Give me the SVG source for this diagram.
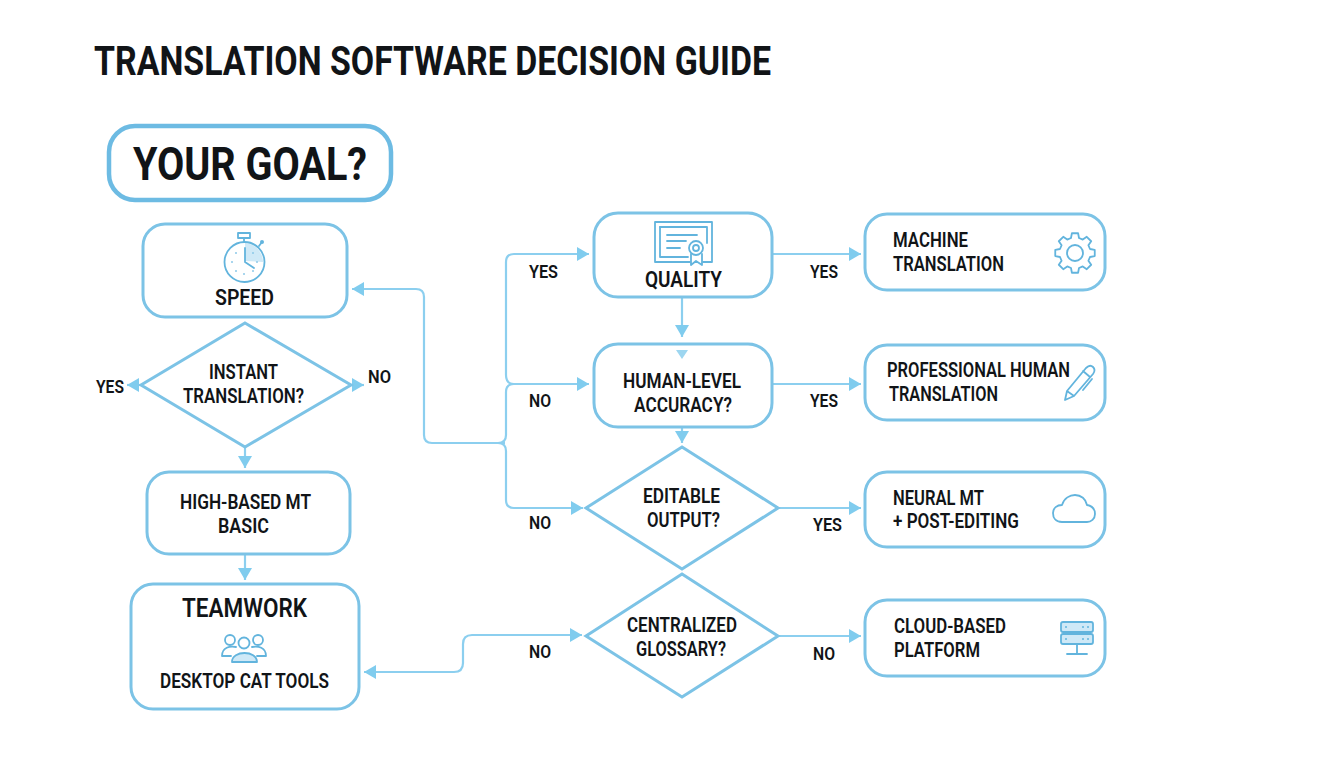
<svg xmlns="http://www.w3.org/2000/svg" width="1344" height="768" viewBox="0 0 1344 768">
<style>
text{font-family:Roboto,"Liberation Sans",sans-serif;font-weight:600;fill:#111417;font-size:20px}
.t{font-size:40px;font-weight:700}
.g{font-size:46px;font-weight:700}
.h{font-size:22px}
.b{font-size:25px}
.l{font-size:18px}
.s{fill:#fff;stroke:#7cc3e6;stroke-width:3}
.c{fill:none;stroke:#8ccfef;stroke-width:2.2}
.i{fill:none;stroke:#62b4dd;stroke-width:1.800;stroke-linecap:round;stroke-linejoin:round}
.f{fill:#cfe9f7;stroke:none}
.v{fill:#cfe9f7;stroke:#62b4dd;stroke-width:1.800}
</style>
<defs>
<marker id="a" markerUnits="userSpaceOnUse" markerWidth="13" markerHeight="16" refX="12" refY="8" orient="auto"><path d="M0 1L12 8L0 15Z" fill="#80ccee"/></marker>
</defs>
<rect width="1344" height="768" fill="#fff"/>
<text class="t" x="94" y="75" textLength="677" lengthAdjust="spacingAndGlyphs">TRANSLATION SOFTWARE DECISION GUIDE</text>
<g id="connectors">
<path class="c" marker-end="url(#a)" d="M505 443H432q-8 0-8-8V297q0-8-8-8H352"/>
<path class="c" marker-end="url(#a)" d="M506 375V262q0-8 8-8H589"/>
<path class="c" marker-end="url(#a)" d="M506 375q0 9 8 9H589"/>
<path class="c" d="M514 384q-8 0-8 8V435q0 8-8 8"/>
<path class="c" marker-end="url(#a)" d="M498 443q8 0 8 8V500q0 8 8 8H583"/>
<path class="c" marker-end="url(#a)" d="M682 297V337"/>
<path class="c" marker-end="url(#a)" d="M682 427V443"/>
<path class="c" marker-end="url(#a)" d="M772 254H861"/>
<path class="c" marker-end="url(#a)" d="M772 384H861"/>
<path class="c" marker-end="url(#a)" d="M778 508H861"/>
<path class="c" marker-end="url(#a)" d="M778 636H861"/>
<path class="c" marker-end="url(#a)" d="M141 385H127"/>
<path class="c" marker-end="url(#a)" d="M351 385H364"/>
<path class="c" marker-end="url(#a)" d="M245 447V468"/>
<path class="c" marker-end="url(#a)" d="M245 554V580"/>
<path class="c" marker-end="url(#a)" d="M472 635H582"/>
<path class="c" marker-end="url(#a)" d="M472 635q-9 0-9 9V663q0 9-9 9H364"/>
</g>
<g id="goal"><rect x="109" y="126" width="282" height="74" rx="26" fill="#fff" stroke="#6dbbe3" stroke-width="4.500"/>
<text class="g" x="133" y="180" textLength="234" lengthAdjust="spacingAndGlyphs">YOUR GOAL?</text></g>
<g id="speed"><rect class="s" x="143" y="224" width="204" height="93" rx="22"/>
<path class="f" d="M245 243A19 19 0 0 1 263 262L245 261Z"/>
<circle class="i" cx="244.500" cy="262" r="20"/>
<path class="i" d="M245 248V262L254 268M238 238h12v-5h-12zM244 238v4M259 246l3-4"/>
<circle cx="262" cy="242" r="2" fill="#62b4dd"/>
<g fill="#8cc8e8"><circle cx="232" cy="262" r="1"/><circle cx="257" cy="262" r="1"/><circle cx="244" cy="274" r="1"/><circle cx="236" cy="253" r="1"/><circle cx="253" cy="253" r="1"/><circle cx="236" cy="271" r="1"/><circle cx="253" cy="271" r="1"/></g>
<text class="h" x="215" y="305" textLength="59" lengthAdjust="spacingAndGlyphs">SPEED</text></g>
<g id="instant"><path class="s" d="M245 323L351 385L245 447L141 385Z"/>
<text x="209" y="379" textLength="69" lengthAdjust="spacingAndGlyphs">INSTANT</text>
<text x="183" y="403" textLength="121" lengthAdjust="spacingAndGlyphs">TRANSLATION?</text></g>
<g id="highbased"><rect class="s" x="147" y="472" width="203" height="82" rx="22"/>
<text x="180" y="509" textLength="131" lengthAdjust="spacingAndGlyphs">HIGH-BASED MT</text>
<text x="218" y="533" textLength="51" lengthAdjust="spacingAndGlyphs">BASIC</text></g>
<g id="teamwork"><rect class="s" x="131" y="584" width="228" height="125" rx="22"/>
<text class="b" x="182" y="617" textLength="125" lengthAdjust="spacingAndGlyphs">TEAMWORK</text>
<path class="f" d="M233 662c0-12 24-12 24 0Z"/>
<g class="i"><circle cx="230" cy="640" r="5"/><circle cx="244" cy="643" r="5.500"/><circle cx="258" cy="640" r="5"/><path d="M222 656c0-9 8-10 14-9M266 656c0-9-8-10-14-9M222 656h9M266 656h-9M232 662c0-12 25-12 25 0Z"/></g>
<text x="160" y="688" textLength="169" lengthAdjust="spacingAndGlyphs">DESKTOP CAT TOOLS</text></g>
<g id="quality"><rect class="s" x="594" y="213" width="178" height="84" rx="24"/>
<g class="i"><path d="M690 262H655V222H712V262H703"/><path d="M660 227H707V243"/><path d="M660 227V257H688"/><path d="M667 235H697M667 241H686M667 248H680"/><circle cx="696" cy="248" r="7"/><circle cx="696" cy="248" r="3"/><path d="M691 254V265L696 261L702 265V254"/></g>
<text class="h" x="645" y="287" textLength="77" lengthAdjust="spacingAndGlyphs">QUALITY</text></g>
<g id="human"><rect class="s" x="594" y="344" width="178" height="83" rx="24"/>
<path d="M676 350L688 350L682 359Z" fill="#9dd6f0"/>
<text x="623" y="388" textLength="118" lengthAdjust="spacingAndGlyphs">HUMAN-LEVEL</text>
<text x="634" y="412" textLength="98" lengthAdjust="spacingAndGlyphs">ACCURACY?</text></g>
<g id="editable"><path class="s" d="M682 447L778 508L682 569L586 508Z"/>
<text x="643" y="503" textLength="77" lengthAdjust="spacingAndGlyphs">EDITABLE</text>
<text x="647" y="527" textLength="73" lengthAdjust="spacingAndGlyphs">OUTPUT?</text></g>
<g id="centralized"><path class="s" d="M682 574L778 636L682 697L586 636Z"/>
<text x="627" y="632" textLength="110" lengthAdjust="spacingAndGlyphs">CENTRALIZED</text>
<text x="636" y="656" textLength="90" lengthAdjust="spacingAndGlyphs">GLOSSARY?</text></g>
<g id="machine"><rect class="s" x="865" y="214" width="240" height="76" rx="22"/>
<g class="i" transform="translate(1075 253)"><circle r="8"/><path d="M-4-15L-3.100-19.750L3.100-19.750L4-15L7.750-13.400L11.750-16.200L16.200-11.750L13.400-7.750L15-4L19.750-3.100L19.750 3.100L15 4L13.400 7.750L16.200 11.750L11.750 16.200L7.750 13.400L4 15L3.100 19.750L-3.100 19.750L-4 15L-7.750 13.400L-11.750 16.200L-16.200 11.750L-13.400 7.750L-15 4L-19.750 3.100L-19.750-3.100L-15-4L-13.400-7.750L-16.200-11.750L-11.750-16.200L-7.750-13.400Z"/></g>
<text x="893" y="247" textLength="75" lengthAdjust="spacingAndGlyphs">MACHINE</text>
<text x="893" y="271" textLength="111" lengthAdjust="spacingAndGlyphs">TRANSLATION</text></g>
<g id="professional"><rect class="s" x="865" y="345" width="240" height="75" rx="22"/>
<path class="i" d="M1067 391L1086 368Q1090 364 1093 367Q1096 370 1093 374L1074 396L1065 400ZM1067 391L1074 396M1083 371L1090 377M1092 379L1083 390"/>
<text x="887" y="377" textLength="183" lengthAdjust="spacingAndGlyphs">PROFESSIONAL HUMAN</text>
<text x="889" y="401" textLength="109" lengthAdjust="spacingAndGlyphs">TRANSLATION</text></g>
<g id="neural"><rect class="s" x="865" y="472" width="240" height="75" rx="22"/>
<path class="i" d="M1062 522C1055 522 1053 517 1053 513C1053 508 1057 505 1062 505C1064 498 1070 495 1075 495C1081 495 1086 499 1087 505C1092 506 1095 509 1095 514C1095 519 1091 522 1087 522Z"/>
<text x="893" y="505" textLength="91" lengthAdjust="spacingAndGlyphs">NEURAL MT</text>
<text x="893" y="528" textLength="126" lengthAdjust="spacingAndGlyphs">+ POST-EDITING</text></g>
<g id="cloud"><rect class="s" x="865" y="600" width="240" height="76" rx="22"/>
<rect class="v" x="1061" y="622" width="32" height="10" rx="2"/>
<rect class="v" x="1061" y="634" width="32" height="10" rx="2"/>
<g fill="#62b4dd"><circle cx="1066" cy="627" r="1"/><circle cx="1083" cy="627" r="1"/><circle cx="1088" cy="627" r="1"/><circle cx="1066" cy="639" r="1"/><circle cx="1083" cy="639" r="1"/><circle cx="1088" cy="639" r="1"/></g>
<path class="i" d="M1077 644V654M1067 654H1087"/>
<text x="894" y="633" textLength="112" lengthAdjust="spacingAndGlyphs">CLOUD-BASED</text>
<text x="894" y="657" textLength="86" lengthAdjust="spacingAndGlyphs">PLATFORM</text></g>
<g id="labels">
<text class="l" x="96" y="393" textLength="28" lengthAdjust="spacingAndGlyphs">YES</text>
<text class="l" x="368" y="383" textLength="23" lengthAdjust="spacingAndGlyphs">NO</text>
<text class="l" x="529" y="278" textLength="29" lengthAdjust="spacingAndGlyphs">YES</text>
<text class="l" x="529" y="407" textLength="22" lengthAdjust="spacingAndGlyphs">NO</text>
<text class="l" x="529" y="529" textLength="22" lengthAdjust="spacingAndGlyphs">NO</text>
<text class="l" x="529" y="658" textLength="22" lengthAdjust="spacingAndGlyphs">NO</text>
<text class="l" x="810" y="278" textLength="28" lengthAdjust="spacingAndGlyphs">YES</text>
<text class="l" x="810" y="407" textLength="28" lengthAdjust="spacingAndGlyphs">YES</text>
<text class="l" x="813" y="531" textLength="29" lengthAdjust="spacingAndGlyphs">YES</text>
<text class="l" x="813" y="660" textLength="22" lengthAdjust="spacingAndGlyphs">NO</text>
</g>
</svg>
